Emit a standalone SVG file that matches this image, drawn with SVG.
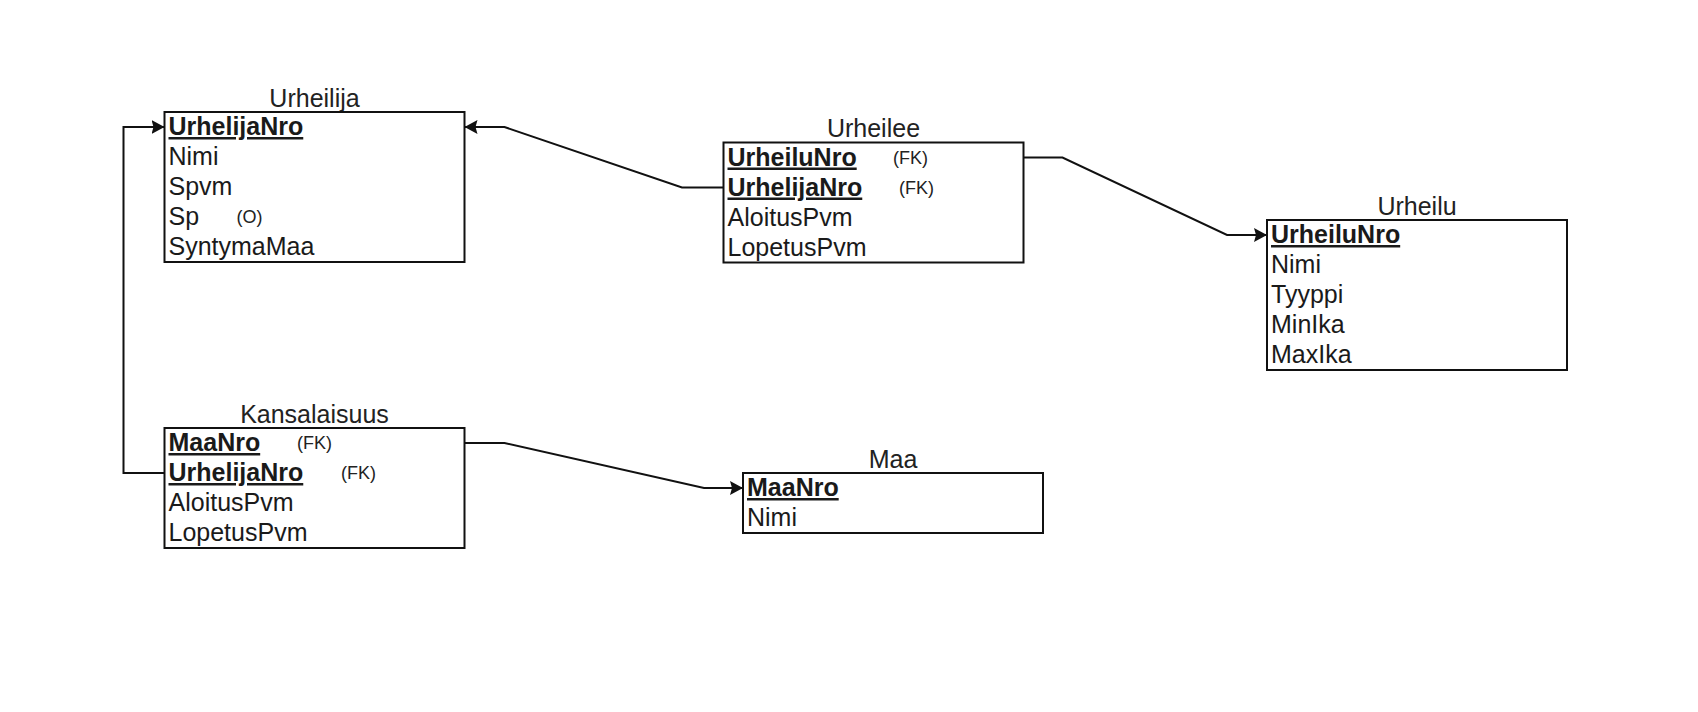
<svg xmlns="http://www.w3.org/2000/svg" width="1698" height="712" viewBox="0 0 1698 712">
<style>
  text { font-family: "Liberation Sans", Arial, Helvetica, sans-serif; fill: #1a1a1a; }
  .title { font-size: 25px; text-anchor: middle; fill: #222; }
  .f { font-size: 25px; }
  .pk { font-size: 25px; font-weight: bold; text-decoration: underline; }
  .s { font-size: 18px; fill: #222; }
  .box { fill: #fff; stroke: #111; stroke-width: 2; }
  .conn { fill: none; stroke: #111; stroke-width: 2; }
</style>
<defs>
  <marker id="arr" viewBox="0 0 13 16" refX="13" refY="8" markerWidth="13" markerHeight="16" markerUnits="userSpaceOnUse" orient="auto">
    <path d="M0,1 L13,8 L0,15 L2,8 Z" fill="#111"/>
  </marker>
</defs>
<rect width="1698" height="712" fill="#fff"/>

<g id="connectors">
  <path class="conn" d="M723.5,187.5 H682 L504.5,127 H464.5" marker-end="url(#arr)"/>
  <path class="conn" d="M1023.5,157.5 H1062.5 L1227,235 H1267" marker-end="url(#arr)"/>
  <path class="conn" d="M164.5,473 H123.5 V127 H164.5" marker-end="url(#arr)"/>
  <path class="conn" d="M464.5,443 H504.5 L704,488 H743" marker-end="url(#arr)"/>
</g>

<g id="urheilija">
  <text class="title" x="314.5" y="106.5">Urheilija</text>
  <rect class="box" x="164.5" y="112" width="300" height="150"/>
  <text class="pk" x="168.5" y="135">UrhelijaNro</text>
  <text class="f" x="168.5" y="165">Nimi</text>
  <text class="f" x="168.5" y="195">Spvm</text>
  <text class="f" x="168.5" y="225">Sp</text>
  <text class="s" x="236.5" y="223">(O)</text>
  <text class="f" x="168.5" y="255">SyntymaMaa</text>
</g>

<g id="urheilee">
  <text class="title" x="873.5" y="137">Urheilee</text>
  <rect class="box" x="723.5" y="142.5" width="300" height="120"/>
  <text class="pk" x="727.5" y="165.5">UrheiluNro</text>
  <text class="s" x="893" y="163.5">(FK)</text>
  <text class="pk" x="727.5" y="195.5">UrhelijaNro</text>
  <text class="s" x="899" y="193.5">(FK)</text>
  <text class="f" x="727.5" y="225.5">AloitusPvm</text>
  <text class="f" x="727.5" y="255.5">LopetusPvm</text>
</g>

<g id="urheilu">
  <text class="title" x="1417" y="214.5">Urheilu</text>
  <rect class="box" x="1267" y="220" width="300" height="150"/>
  <text class="pk" x="1271" y="243">UrheiluNro</text>
  <text class="f" x="1271" y="273">Nimi</text>
  <text class="f" x="1271" y="303">Tyyppi</text>
  <text class="f" x="1271" y="333">MinIka</text>
  <text class="f" x="1271" y="363">MaxIka</text>
</g>

<g id="kansalaisuus">
  <text class="title" x="314.5" y="422.5">Kansalaisuus</text>
  <rect class="box" x="164.5" y="428" width="300" height="120"/>
  <text class="pk" x="168.5" y="451">MaaNro</text>
  <text class="s" x="297" y="449">(FK)</text>
  <text class="pk" x="168.5" y="481">UrhelijaNro</text>
  <text class="s" x="341" y="479">(FK)</text>
  <text class="f" x="168.5" y="511">AloitusPvm</text>
  <text class="f" x="168.5" y="541">LopetusPvm</text>
</g>

<g id="maa">
  <text class="title" x="893" y="467.5">Maa</text>
  <rect class="box" x="743" y="473" width="300" height="60"/>
  <text class="pk" x="747" y="496">MaaNro</text>
  <text class="f" x="747" y="526">Nimi</text>
</g>
</svg>
